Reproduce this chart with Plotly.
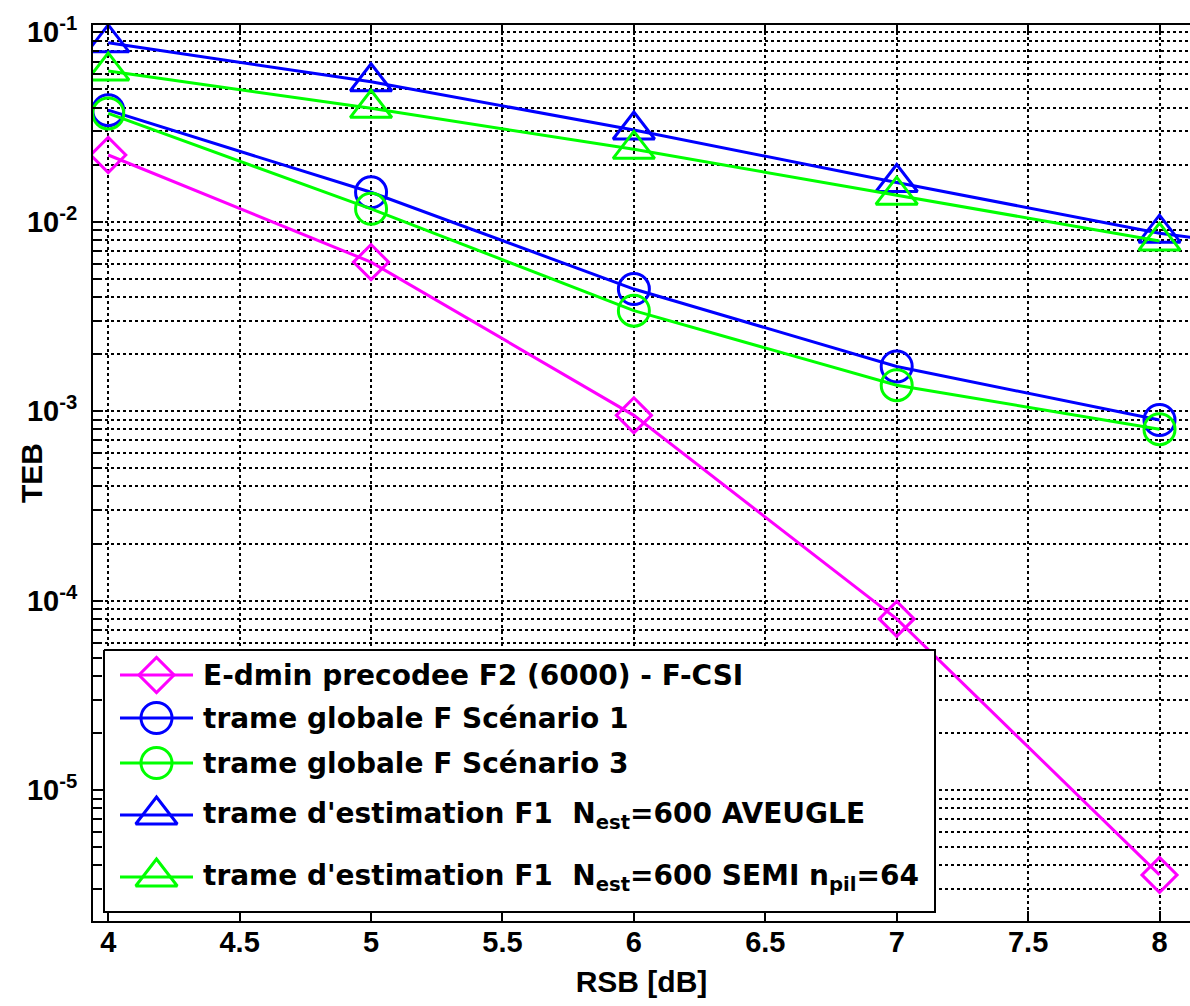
import plotly.graph_objects as go

# ---- data ----
rsb = [4, 5, 6, 7, 8]
rsb_aveugle = [4, 5, 6, 7, 8, 9]
teb_edmin = [0.0225, 0.00612, 9.5e-4, 8.0e-5, 3.56e-6]
teb_scen1 = [0.0388, 0.0143, 0.00441, 0.00172, 8.97e-4]
teb_scen3 = [0.0373, 0.0117, 0.00339, 0.00137, 8.03e-4]
teb_aveugle = [0.088, 0.0548, 0.0305, 0.0161, 0.0087, 0.0057]
teb_semi = [0.0625, 0.0397, 0.0241, 0.0138, 0.0079]

x_ticks = [4, 4.5, 5, 5.5, 6, 6.5, 7, 7.5, 8]
x_ticktext = ["4", "4.5", "5", "5.5", "6", "6.5", "7", "7.5", "8"]
y_ticks = [1e-5, 1e-4, 1e-3, 1e-2, 1e-1]
y_ticktext = ["10<sup>-5</sup>", "10<sup>-4</sup>", "10<sup>-3</sup>",
              "10<sup>-2</sup>", "10<sup>-1</sup>"]
y_minor = [m * 10.0 ** e for e in range(-6, -1) for m in range(2, 10)]

names = [
    "E-dmin precodee F2 (6000) - F-CSI",
    "trame globale F Scénario 1",
    "trame globale F Scénario 3",
    "trame d'estimation F1\u00a0 N<sub>est</sub>=600 AVEUGLE",
    "trame d'estimation F1\u00a0 N<sub>est</sub>=600 SEMI n<sub>pil</sub>=64",
]
x_title = "RSB [dB]"
y_title = "TEB"

MAG, BLUE, GREEN = "#FF00FF", "#0000FF", "#00FF00"
TICKFONT = dict(family="Liberation Sans, Arial", size=29, color="black", weight="bold")
TITLEFONT = dict(family="Liberation Sans, Arial", size=30, color="black", weight="bold")
LEGFONT = dict(family="DejaVu Sans", size=28, color="black", weight="bold")

W, H = 1190, 1004
ML, MR, MT, MB = 93, 0, 25, 83
PW, PH = W - ML - MR, H - MT - MB   # plot area in pixels

series = [
    (rsb, teb_edmin, MAG, "diamond-open", 27),
    (rsb, teb_scen1, BLUE, "circle-open", 31),
    (rsb, teb_scen3, GREEN, "circle-open", 31),
    (rsb_aveugle, teb_aveugle, BLUE, "triangle-up-open", 36),
    (rsb, teb_semi, GREEN, "triangle-up-open", 36),
]

fig = go.Figure()
for (xs, ys, col, sym, sz), nm in zip(series, names):
    fig.add_trace(go.Scatter(
        x=xs, y=ys, name=nm, mode="lines+markers", showlegend=False,
        line=dict(color=col, width=3),
        marker=dict(symbol=sym, size=sz, color=col, line=dict(color=col, width=3)),
    ))

# ---- legend drawn in a pixel-unit overlay (x from plot left, y from plot top) ----
leg_box = dict(x0=11, x1=842, y0=625, y1=887)
leg_rows = [650, 693, 738, 790, 852]
leg_line = (27, 100)
leg_text_x = 108

fig.add_trace(go.Scatter(
    x=[leg_box["x0"], leg_box["x1"], leg_box["x1"], leg_box["x0"], leg_box["x0"]],
    y=[leg_box["y0"], leg_box["y0"], leg_box["y1"], leg_box["y1"], leg_box["y0"]],
    xaxis="x2", yaxis="y2", mode="lines", fill="toself", fillcolor="white",
    line=dict(color="black", width=2), showlegend=False, hoverinfo="skip",
))
for (xs, ys, col, sym, sz), nm, ry in zip(series, names, leg_rows):
    fig.add_trace(go.Scatter(
        x=list(leg_line), y=[ry, ry], xaxis="x2", yaxis="y2", mode="lines",
        line=dict(color=col, width=3), showlegend=False, hoverinfo="skip",
    ))
    fig.add_trace(go.Scatter(
        x=[(leg_line[0] + leg_line[1]) / 2], y=[ry], xaxis="x2", yaxis="y2",
        mode="markers", showlegend=False, hoverinfo="skip",
        marker=dict(symbol=sym, size=sz, color=col, line=dict(color=col, width=3)),
    ))
    fig.add_annotation(
        x=leg_text_x, y=ry, xref="x2", yref="y2", text=nm, showarrow=False,
        xanchor="left", yanchor="middle", font=LEGFONT,
    )

# y-axis title placed as a rotated annotation (x = 31 px from the left page edge)
fig.add_annotation(
    x=(31 - ML) / PW, y=0.5, xref="paper", yref="paper", text=y_title,
    textangle=-90, showarrow=False, xanchor="center", yanchor="middle",
    font=TITLEFONT,
)

fig.update_layout(
    width=W, height=H,
    margin=dict(l=ML, r=MR, t=MT, b=MB),
    plot_bgcolor="white", paper_bgcolor="white",
    showlegend=False,
    xaxis2=dict(overlaying="x", range=[0, PW], visible=False, fixedrange=True),
    yaxis2=dict(overlaying="y", range=[PH, 0], visible=False, fixedrange=True),
)
fig.update_layout(xaxis=dict(
    range=[3.942, 8.116], tickvals=x_ticks, ticktext=x_ticktext, automargin=False,
    tickfont=TICKFONT, ticks="inside", ticklen=10, tickwidth=1.5, tickcolor="black",
    ticklabelstandoff=-6,
    showline=True, linecolor="black", linewidth=2, mirror="ticks",
    showgrid=True, gridcolor="black", gridwidth=2, griddash="3px,3px",
    zeroline=False,
    title=dict(text=x_title, font=TITLEFONT, standoff=14),
))
fig.update_layout(yaxis=dict(
    type="log", range=[-5.692, -0.9615], tickvals=y_ticks, ticktext=y_ticktext,
    automargin=False,
    tickfont=TICKFONT, ticks="inside", ticklen=10, tickwidth=1.5, tickcolor="black",
    ticklabelstandoff=8,
    showline=True, linecolor="black", linewidth=2, mirror=False,
    showgrid=True, gridcolor="black", gridwidth=2, griddash="3px,3px",
    minor=dict(tickvals=y_minor, ticks="inside", ticklen=6, tickwidth=1.5,
               tickcolor="black", showgrid=True, gridcolor="black",
               gridwidth=2, griddash="3px,3px"),
    zeroline=False,
))

# remove the default page margin so the figure sits at the window's top-left corner
fig.write_html(
    "out.html",
    config={"displayModeBar": False},
    post_script="document.body.style.margin='0px';document.body.style.overflow='hidden';",
)
